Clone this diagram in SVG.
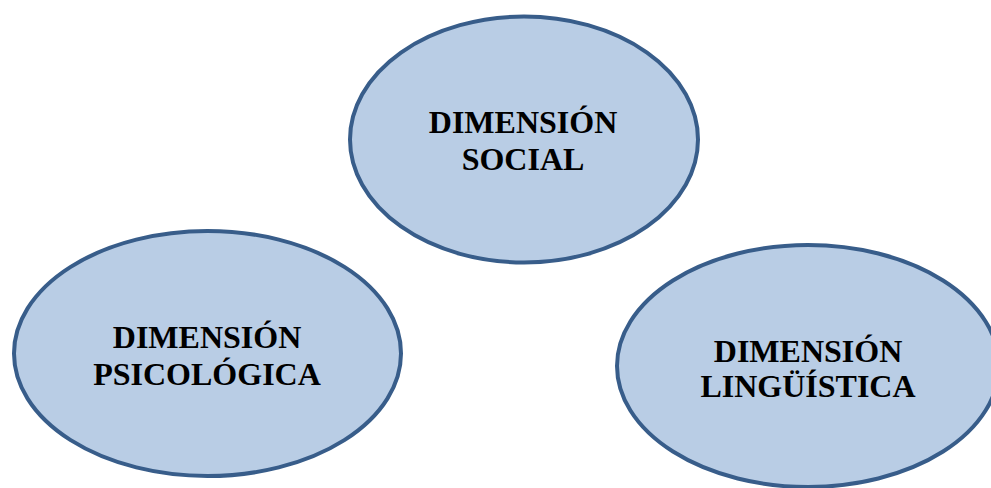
<svg xmlns="http://www.w3.org/2000/svg" width="991" height="488" viewBox="0 0 991 488">
<style>
.node ellipse{fill:#B9CDE5;stroke:#385D8A;stroke-width:4}
.node text{font-family:"Liberation Serif","Times New Roman",serif;font-weight:bold;font-size:32px;fill:#000;text-anchor:middle}
</style>
<rect width="991" height="488" fill="#fff"/>
<g id="connectors"></g>
<g id="social" class="node">
<ellipse cx="524" cy="139.5" rx="174" ry="123"/>
<text x="523" y="133">DIMENSIÓN</text>
<text x="523" y="170">SOCIAL</text>
</g>
<g id="psicologica" class="node">
<ellipse cx="207.5" cy="353.5" rx="193.5" ry="122.5"/>
<text x="207" y="348">DIMENSIÓN</text>
<text x="207" y="385">PSICOLÓGICA</text>
</g>
<g id="linguistica" class="node">
<ellipse cx="808" cy="366" rx="191" ry="121"/>
<text x="808" y="362">DIMENSIÓN</text>
<text x="808" y="397">LINGÜÍSTICA</text>
</g>
</svg>
